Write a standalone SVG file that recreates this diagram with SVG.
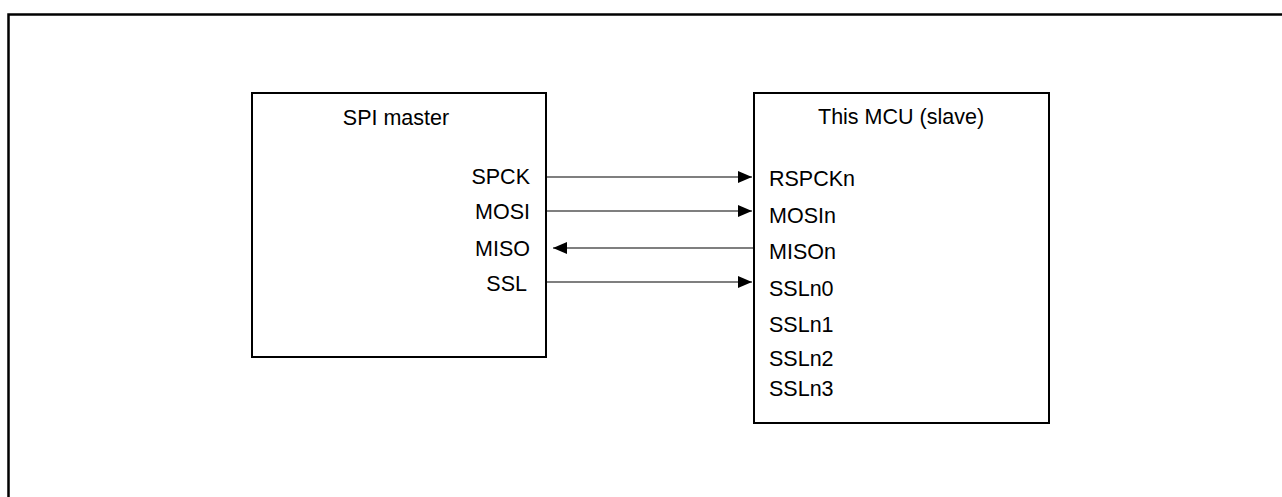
<svg xmlns="http://www.w3.org/2000/svg" width="1282" height="497" viewBox="0 0 1282 497">
<style>
.box{fill:#fff;stroke:#000;stroke-width:2}
.t{font-family:"Liberation Sans",Arial,sans-serif;font-size:21.5px;fill:#000}
.r{text-anchor:end}
.c{text-anchor:middle}
.w{stroke:#000;stroke-width:1.2;fill:none}
</style>
<defs>
<marker id="ah" markerWidth="14" markerHeight="12" refX="14" refY="6" orient="auto" markerUnits="userSpaceOnUse">
<path d="M0,0 L14,6 L0,12 Z" fill="#000"/>
</marker>
</defs>
<rect width="1282" height="497" fill="#fff"/>
<path d="M8.5,497 V14.5 H1282" fill="none" stroke="#000" stroke-width="2.5"/>
<g id="master">
<rect class="box" x="252" y="93" width="294" height="264"/>
<text class="t c" x="396" y="125">SPI master</text>
<text class="t r" x="530" y="184">SPCK</text>
<text class="t r" x="530" y="219">MOSI</text>
<text class="t r" x="530" y="256">MISO</text>
<text class="t r" x="527" y="291">SSL</text>
</g>
<g id="slave">
<rect class="box" x="754" y="93" width="295" height="330"/>
<text class="t" x="818" y="124">This MCU (slave)</text>
<text class="t" x="769" y="186">RSPCKn</text>
<text class="t" x="769" y="223">MOSIn</text>
<text class="t" x="769" y="259">MISOn</text>
<text class="t" x="769" y="296">SSLn0</text>
<text class="t" x="769" y="332">SSLn1</text>
<text class="t" x="769" y="366">SSLn2</text>
<text class="t" x="769" y="396">SSLn3</text>
</g>
<g id="connectors">
<line class="w" x1="547" y1="177" x2="752" y2="177" marker-end="url(#ah)"/>
<line class="w" x1="547" y1="211" x2="752" y2="211" marker-end="url(#ah)"/>
<line class="w" x1="753" y1="248" x2="553" y2="248" marker-end="url(#ah)"/>
<line class="w" x1="547" y1="282" x2="752" y2="282" marker-end="url(#ah)"/>
</g>
</svg>
